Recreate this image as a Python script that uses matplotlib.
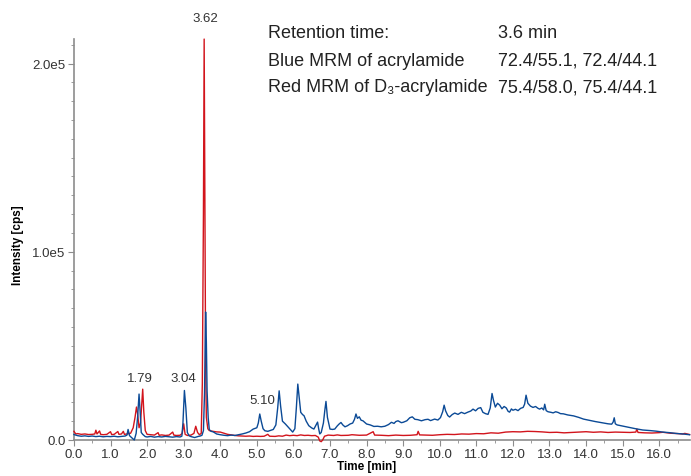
import numpy as np
import matplotlib
matplotlib.use('Agg')
from matplotlib import pyplot as plt
from matplotlib.ticker import MultipleLocator, FuncFormatter

plt.rcParams['font.family'] = ['Liberation Sans', 'DejaVu Sans']

# blue trace: MRM of acrylamide (time in min, intensity in cps)
blue_t = [0.0, 0.1, 0.2, 0.3, 0.4, 0.5, 0.6, 0.7, 0.8, 0.9, 1.0, 1.1, 1.2, 1.3, 1.4,
          1.45, 1.48, 1.52, 1.58, 1.65, 1.70, 1.74, 1.78, 1.81, 1.84, 1.88, 1.95,
          2.0, 2.1, 2.2, 2.3, 2.4, 2.5, 2.6, 2.7, 2.8, 2.9, 2.95, 2.98, 3.02, 3.06,
          3.10, 3.15, 3.2, 3.3, 3.4, 3.45, 3.5, 3.54, 3.57, 3.60, 3.62, 3.64, 3.67,
          3.70, 3.75, 3.81, 3.9, 4.0, 4.1, 4.2, 4.3, 4.4, 4.5, 4.6, 4.7, 4.8, 4.9,
          5.0, 5.04, 5.08, 5.12, 5.17, 5.22, 5.3, 5.36, 5.45, 5.52, 5.57, 5.61,
          5.65, 5.70, 5.78, 5.85, 5.92, 5.98, 6.04, 6.08, 6.12, 6.16, 6.2, 6.25,
          6.29, 6.35, 6.42, 6.5, 6.56, 6.62, 6.66, 6.69, 6.72, 6.76, 6.82, 6.86,
          6.89, 6.93, 7.0, 7.07, 7.13, 7.2, 7.25, 7.3, 7.35, 7.41, 7.48, 7.55,
          7.62, 7.67, 7.71, 7.75, 7.8, 7.85, 7.9, 8.0, 8.1, 8.2, 8.3, 8.4, 8.5,
          8.6, 8.68, 8.75, 8.8, 8.86, 8.95, 9.0, 9.1, 9.18, 9.25, 9.32, 9.4, 9.5,
          9.6, 9.68, 9.75, 9.86, 9.95, 10.02, 10.08, 10.12, 10.16, 10.22, 10.27,
          10.34, 10.41, 10.5, 10.59, 10.68, 10.77, 10.85, 10.91, 10.98, 11.05,
          11.12, 11.18, 11.25, 11.32, 11.38, 11.43, 11.47, 11.52, 11.58, 11.64,
          11.7, 11.76, 11.82, 11.87, 11.91, 11.96, 12.0, 12.07, 12.14, 12.21,
          12.28, 12.32, 12.36, 12.41, 12.48, 12.55, 12.62, 12.68, 12.73, 12.79,
          12.84, 12.87, 12.91, 12.96, 13.04, 13.1, 13.17, 13.24, 13.3, 13.38,
          13.5, 13.66, 13.8, 13.93, 14.05, 14.12, 14.25, 14.39, 14.5, 14.6, 14.7,
          14.74, 14.77, 14.8, 14.85, 15.0, 15.18, 15.35, 15.55, 15.75, 15.91,
          16.1, 16.28, 16.45, 16.64, 16.83]
blue_i = [2900, 2300, 2000, 2200, 1900, 2100, 1800, 2000, 1700, 1900, 1800, 2000, 1700, 1900, 2100,
          2600, 5600, 2300, 1200, 0, 3500, 12000, 24400, 15000, 4000, 3000, 1800,
          1600, 1900, 1500, 1800, 1600, 1900, 1700, 1500, 1800, 1600, 2000, 9000, 26300, 17000,
          4000, 2200, 1800, 1300, 1900, 2100, 2500, 5000, 25000, 68000, 52000, 26000, 12000,
          5500, 4600, 4300, 3200, 2800, 2500, 2300, 2600, 2400, 2800, 3200, 3700, 4400, 5800,
          6500, 9000, 13800, 10000, 6000, 4900, 4600, 5000, 5600, 8000, 17000, 26100,
          18000, 10000, 8500, 7000, 5500, 4200, 6000, 17000, 29700, 22000, 14700, 13500,
          12900, 10000, 7600, 6400, 5800, 8000, 9500, 6000, 3200, 4000, 9000, 16000,
          20500, 12000, 5800, 5600, 5800, 7500, 8500, 9300, 8000, 7000, 7600, 8500,
          9000, 11000, 13800, 11500, 12300, 10500, 10200, 8500, 8000, 7200, 7300, 7000, 7300,
          8200, 9400, 8800, 9800, 10200, 9200, 9400, 10200, 11800, 12300, 11000, 10800, 10200,
          10800, 11000, 10300, 11100, 10600, 11900, 15000, 18500, 15500, 13000, 12200,
          13500, 14300, 13600, 14700, 14000, 14800, 15400, 16400, 15500, 16800,
          17200, 14700, 14000, 13600, 17000, 24700, 21000, 17500, 19500, 18500,
          16600, 17800, 17000, 15200, 14800, 16500, 15800, 16300, 15600, 16800,
          17300, 19000, 23800, 19500, 18000, 17300, 17800, 16900, 16400, 17000,
          16000, 19000, 15600, 15000, 14700, 14400, 15000, 14600, 14000, 13900,
          13300, 12800, 12000, 11100, 10600, 10300, 9800, 9300, 8900, 8600, 8400,
          9500, 11800, 8600, 8000, 7400, 6700, 6000, 5300, 5000, 4700,
          4200, 3900, 3500, 3200, 2800]

# red trace: MRM of D3-acrylamide
red_t = [0.0, 0.05, 0.1, 0.2, 0.3, 0.4, 0.5, 0.57, 0.6, 0.63, 0.7, 0.73, 0.8, 0.9,
         1.0, 1.03, 1.1, 1.2, 1.23, 1.3, 1.35, 1.38, 1.45, 1.55, 1.62, 1.67, 1.71,
         1.74, 1.78, 1.82, 1.85, 1.88, 1.91, 1.95, 2.0, 2.1, 2.2, 2.3, 2.33, 2.4,
         2.5, 2.6, 2.7, 2.73, 2.8, 2.9, 2.96, 3.0, 3.04, 3.1, 3.2, 3.28, 3.33,
         3.38, 3.43, 3.48, 3.51, 3.54, 3.56, 3.58, 3.60, 3.62, 3.66, 3.7, 3.8,
         3.9, 4.0, 4.1, 4.2, 4.3, 4.4, 4.5, 4.6, 4.7, 4.8, 4.9, 5.0, 5.1, 5.2,
         5.3, 5.35, 5.5, 5.6, 5.7, 5.8, 5.9, 6.0, 6.1, 6.2, 6.3, 6.4, 6.5, 6.6,
         6.68, 6.72, 6.76, 6.8, 6.85, 6.95, 7.1, 7.2, 7.3, 7.5, 7.6, 7.8, 8.0,
         8.18, 8.22, 8.4, 8.6, 8.8, 9.0, 9.2, 9.38, 9.41, 9.45, 9.6, 9.8, 10.0,
         10.2, 10.4, 10.6, 10.8, 11.0, 11.2, 11.4, 11.6, 11.8, 12.0, 12.2, 12.4,
         12.6, 12.8, 13.0, 13.2, 13.4, 13.6, 13.8, 14.0, 14.2, 14.4, 14.6, 14.8,
         15.0, 15.2, 15.36, 15.39, 15.42, 15.6, 15.8, 16.0, 16.1, 16.3, 16.5,
         16.64, 16.7, 16.83]
red_i = [4600, 3200, 3400, 3000, 3200, 2900, 3000, 3200, 5200, 3200, 4800, 3000, 2800, 3000,
         4400, 2900, 3000, 4500, 3000, 3200, 4600, 3000, 3200, 3600, 6500, 12000, 17500,
         14000, 6500, 9000, 18000, 27000, 15000, 5000, 3000, 2800, 2600, 3900, 2500, 2700,
         2400, 2600, 4200, 2600, 2400, 2500, 3500, 8600, 3000, 2400, 2600, 3500, 7300,
         4000, 2800, 3500, 30000, 120000, 213000, 130000, 40000, 12000, 6000, 5000, 4600,
         4300, 4200, 3600, 3000, 2700, 2400, 2200, 2100, 2000, 2100, 1900, 2000, 1900, 2000,
         3000, 2000, 1900, 2200, 2000, 2600, 2300, 2500, 2300, 2700, 2400, 2500, 2300, 2400,
         1500, -500, -900, 0, 2000, 2600, 2400, 2700, 2400, 2500, 2800, 2500, 2600,
         4400, 2600, 2500, 2300, 2600, 2400, 2500, 2800, 4600, 2700, 2600, 2500, 2800,
         3000, 2900, 3200, 3100, 3400, 3300, 3800, 3600, 4200, 4400, 4300, 4600,
         4500, 4300, 4000, 4100, 3800, 4000, 4200, 4400, 4100, 4300, 4000, 4200,
         4100, 4000, 4200, 5800, 4000, 3800, 3700, 3900, 4100, 3600, 3400,
         3200, 3500, 2900]

peak_labels = ['3.62', '1.79', '3.04', '5.10']
info_left = ['Retention time:', 'Blue MRM of acrylamide',
             'Red MRM of D\u2083-acrylamide']
info_right = ['3.6 min', '72.4/55.1, 72.4/44.1', '75.4/58.0, 75.4/44.1']

fig = plt.figure(figsize=(6.91, 4.77), dpi=100)
ax = fig.add_axes([0.107, 0.0755, 0.892, 0.8405])

ax.plot(red_t, red_i, color='#d2141c', lw=1.0, clip_on=False, zorder=3)
ax.plot(blue_t, blue_i, color='#0b4a96', lw=1.0, clip_on=False, zorder=4)

ax.set_xlim(0, 16.85)
ax.set_ylim(0, 2.13e5)

for s in ['top', 'right']:
    ax.spines[s].set_visible(False)
for s in ['left', 'bottom']:
    ax.spines[s].set_color('#8c8c8c')
    ax.spines[s].set_linewidth(1.2)

ax.xaxis.set_major_locator(MultipleLocator(1.0))
ax.xaxis.set_minor_locator(MultipleLocator(0.5))
ax.yaxis.set_major_locator(MultipleLocator(1e5))
ax.yaxis.set_minor_locator(MultipleLocator(1e4))
ax.xaxis.set_major_formatter(FuncFormatter(lambda v, p: '%.1f' % v))
ax.yaxis.set_major_formatter(FuncFormatter(
    lambda v, p: '0.0' if v == 0 else '%.1fe5' % (v / 1e5)))
ax.tick_params(which='major', length=4, width=0.8, color='#8c8c8c',
               labelsize=9.5, labelcolor='#333333', pad=2)
ax.tick_params(which='minor', length=2.5, width=0.6, color='#8c8c8c')

fig.text(18 / 691, 1 - 245 / 477, 'Intensity [cps]', rotation=90, ha='center',
         va='center', fontsize=8.5, fontweight='bold')
fig.text(367 / 691, 1 - 467 / 477, 'Time [min]', ha='center', va='center',
         fontsize=8.5, fontweight='bold')

# peak labels
ax.text(3.6, 224000, peak_labels[0], ha='center', va='center', fontsize=9.5,
        color='#333333', clip_on=False)
ax.text(1.80, 32900, peak_labels[1], ha='center', va='center', fontsize=9.5,
        color='#333333')
ax.text(2.98, 32900, peak_labels[2], ha='center', va='center', fontsize=9.5,
        color='#333333')
ax.text(5.16, 21200, peak_labels[3], ha='center', va='center', fontsize=9.5,
        color='#333333')

rows_y = [33, 61, 88]
for left, right, y in zip(info_left, info_right, rows_y):
    fig.text(268 / 691, 1 - y / 477, left, ha='left', va='center',
             fontsize=13, color='#222222')
    fig.text(498 / 691, 1 - y / 477, right, ha='left', va='center',
             fontsize=13, color='#222222')

fig.savefig('out.png', dpi=100)
